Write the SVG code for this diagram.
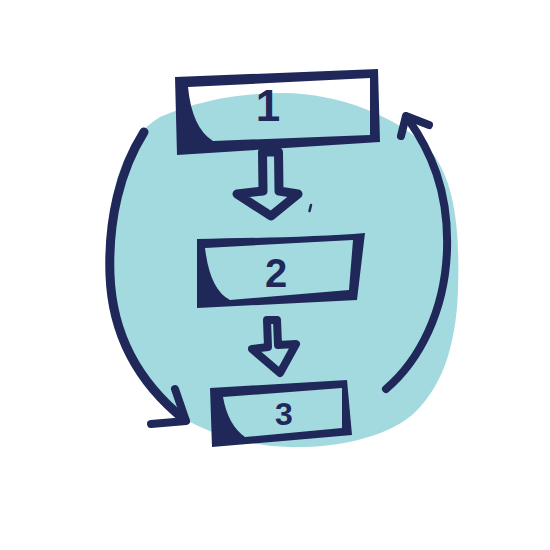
<svg xmlns="http://www.w3.org/2000/svg" width="550" height="550" viewBox="0 0 550 550">
<defs>
<style>
.frame{fill:#1f2858;fill-rule:evenodd}
.lbl{font-family:"Liberation Sans",Arial,sans-serif;font-weight:bold;fill:#1f2858;text-anchor:middle}
.ln{fill:none;stroke:#1f2858;stroke-linecap:round;stroke-linejoin:round}
</style>
</defs>
<rect width="550" height="550" fill="#ffffff"/>
<path id="blob" fill="#a3dae0" d="M283,93 C340,93 400,118 430,150 C455,180 460,230 458,290 C456,350 440,390 412,415 C382,440 330,448 290,447 C240,446 200,430 170,410 C130,380 110,330 108,270 C106,200 120,140 160,117 C200,100 240,93 283,93 Z"/>
<g id="connectors">
<path class="ln" stroke-width="9" d="M262.5,152 L263,191 L237,194 L271,216 L298,194 L279,191 L278.5,152 Z"/>
<path class="ln" stroke-width="8" d="M267,320 L268,347 L252,349 L280,373 L296,344 L278,345 L277,320 Z"/>
<path class="ln" stroke-width="9" d="M144,132 C120,170 108,220 110,275 C112,330 135,380 185,420"/>
<path class="ln" stroke-width="8" d="M175,389 L186,421 L151,424"/>
<path class="ln" stroke-width="8" d="M386,389 C420,360 445,310 447,250 C449,190 430,150 408,119"/>
<path class="ln" stroke-width="8" d="M401,136 L406,116 L429,125"/>
<path class="ln" stroke-width="2.5" d="M311,205 L309.5,211"/>
</g>
<g id="node1">
<path class="frame" d="M175,77 L378,69 L380,142 L177,155 Z M188,87 L370,78 L370,135 L213,141 Q192,128 188,87 Z"/>
<text class="lbl" x="268" y="121" font-size="44">1</text>
</g>
<g id="node2">
<path class="frame" d="M197,239 C250,238 320,237 365,233 L357,300 L197,308 Z M205,248 L353,240 L349,290 L230,300 Q210,290 205,248 Z"/>
<text class="lbl" x="276" y="287" font-size="40">2</text>
</g>
<g id="node3">
<path class="frame" d="M210,388 L347,380 L352,435 L212,447 Z M223,397 L342,388 L342,428 L245,437 Q228,425 223,397 Z"/>
<text class="lbl" x="284" y="425" font-size="32">3</text>
</g>
</svg>
